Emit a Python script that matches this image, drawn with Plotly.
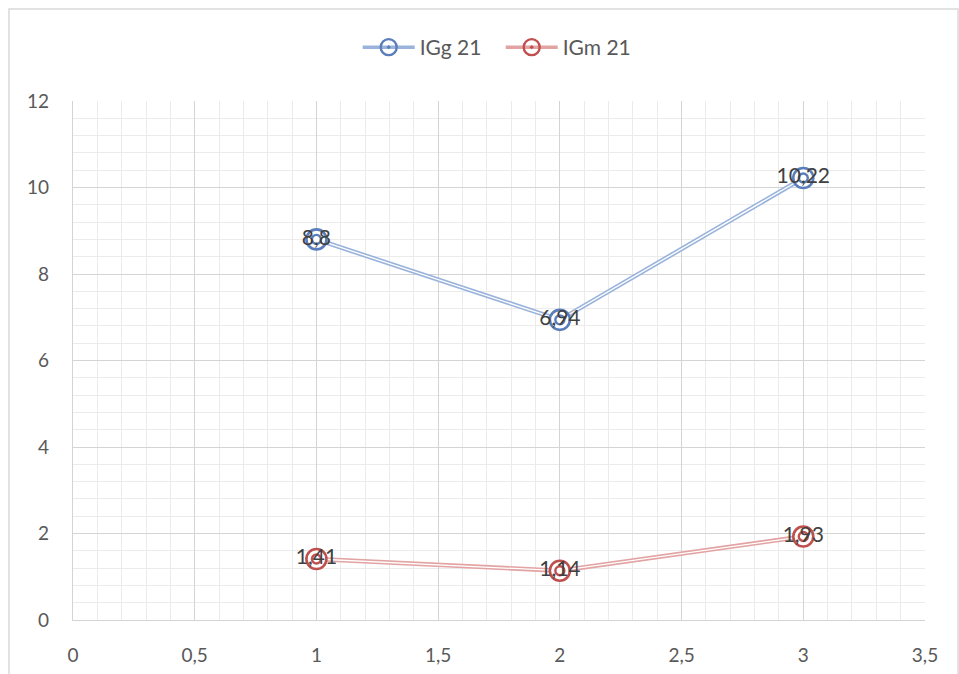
import plotly.graph_objects as go

# Series data
x_vals = [1, 2, 3]
igg_vals = [8.8, 6.94, 10.22]
igm_vals = [1.41, 1.14, 1.93]
series_names = ["IGg 21", "IGm 21"]

x_ticks = [0, 0.5, 1, 1.5, 2, 2.5, 3, 3.5]
y_ticks = [0, 2, 4, 6, 8, 10, 12]

blue_line = "#9AB3DB"
blue_mark = "#5A7EBB"
red_line = "#E2A3A2"
red_mark = "#C0504D"
label_font = dict(family="Lato, Open Sans, sans-serif", size=21, color="#404040")

fig = go.Figure()


def add_series(name, ys, line_c, mark_c):
    # double (compound) line: a wide coloured stroke with a thin white core
    fig.add_trace(go.Scatter(x=x_vals, y=ys, mode="lines", showlegend=False,
                             line=dict(color=line_c, width=4.5), hoverinfo="skip"))
    fig.add_trace(go.Scatter(x=x_vals, y=ys, mode="lines", showlegend=False,
                             line=dict(color="white", width=1.3), hoverinfo="skip"))
    # outer ring marker
    fig.add_trace(go.Scatter(x=x_vals, y=ys, mode="markers", showlegend=False,
                             marker=dict(symbol="circle", size=20, color="white",
                                         line=dict(color=mark_c, width=2.6))))
    # inner ring marker with the value label
    fig.add_trace(go.Scatter(x=x_vals, y=ys, mode="markers+text", showlegend=False,
                             marker=dict(symbol="circle-open", size=9, color=mark_c,
                                         line=dict(color=mark_c, width=2.4)),
                             text=[f"{v:g}".replace(".", ",") for v in ys],
                             textposition="middle center", textfont=label_font))
    # legend entry
    fig.add_trace(go.Scatter(x=[None], y=[None], mode="lines+markers", name=name,
                             line=dict(color=line_c, width=3.5),
                             marker=dict(symbol="circle-open-dot", size=16,
                                         color=mark_c,
                                         line=dict(color=mark_c, width=2.4))))


add_series(series_names[0], igg_vals, blue_line, blue_mark)
add_series(series_names[1], igm_vals, red_line, red_mark)

axis_font = dict(family="Lato, Open Sans, sans-serif", size=19, color="#595959")

fig.update_layout(
    width=959, height=674,
    margin=dict(l=73, r=34, t=101, b=54, autoexpand=False),
    paper_bgcolor="white", plot_bgcolor="white",
    separators=", ",
    showlegend=True,
    legend=dict(orientation="h", x=0.502, xanchor="center",
                yref="container", y=1 - 27 / 674, yanchor="top",
                font=dict(family="Lato, Open Sans, sans-serif", size=21, color="#595959"),
                itemwidth=52, entrywidth=76),
    xaxis=dict(range=[0, 3.5], tickvals=x_ticks,
               ticktext=[f"{v:g}".replace(".", ",") for v in x_ticks],
               showgrid=True, gridcolor="#D4D4D4", gridwidth=1.4,
               minor=dict(dtick=0.1, showgrid=True, gridcolor="#EBEBEB", gridwidth=1.4),
               zeroline=False, showline=True, linecolor="#D4D4D4", linewidth=1.4,
               ticks="", tickfont=axis_font, ticklabelstandoff=18, automargin=False),
    yaxis=dict(range=[0, 12], tickvals=y_ticks,
               showgrid=True, gridcolor="#D4D4D4", gridwidth=1.4,
               minor=dict(dtick=0.4, showgrid=True, gridcolor="#EBEBEB", gridwidth=1.4),
               zeroline=False, showline=True, linecolor="#D4D4D4", linewidth=1.4,
               ticks="", tickfont=axis_font, ticklabelstandoff=19, automargin=False),
)

# outer chart border
fig.add_shape(type="rect", xref="paper", yref="paper",
              x0=-64 / 852, x1=885 / 852, y0=-80 / 519, y1=1 + 92 / 519,
              line=dict(color="#D9D9D9", width=1.5), fillcolor="rgba(0,0,0,0)",
              layer="below")

fig.write_html("out.html")
